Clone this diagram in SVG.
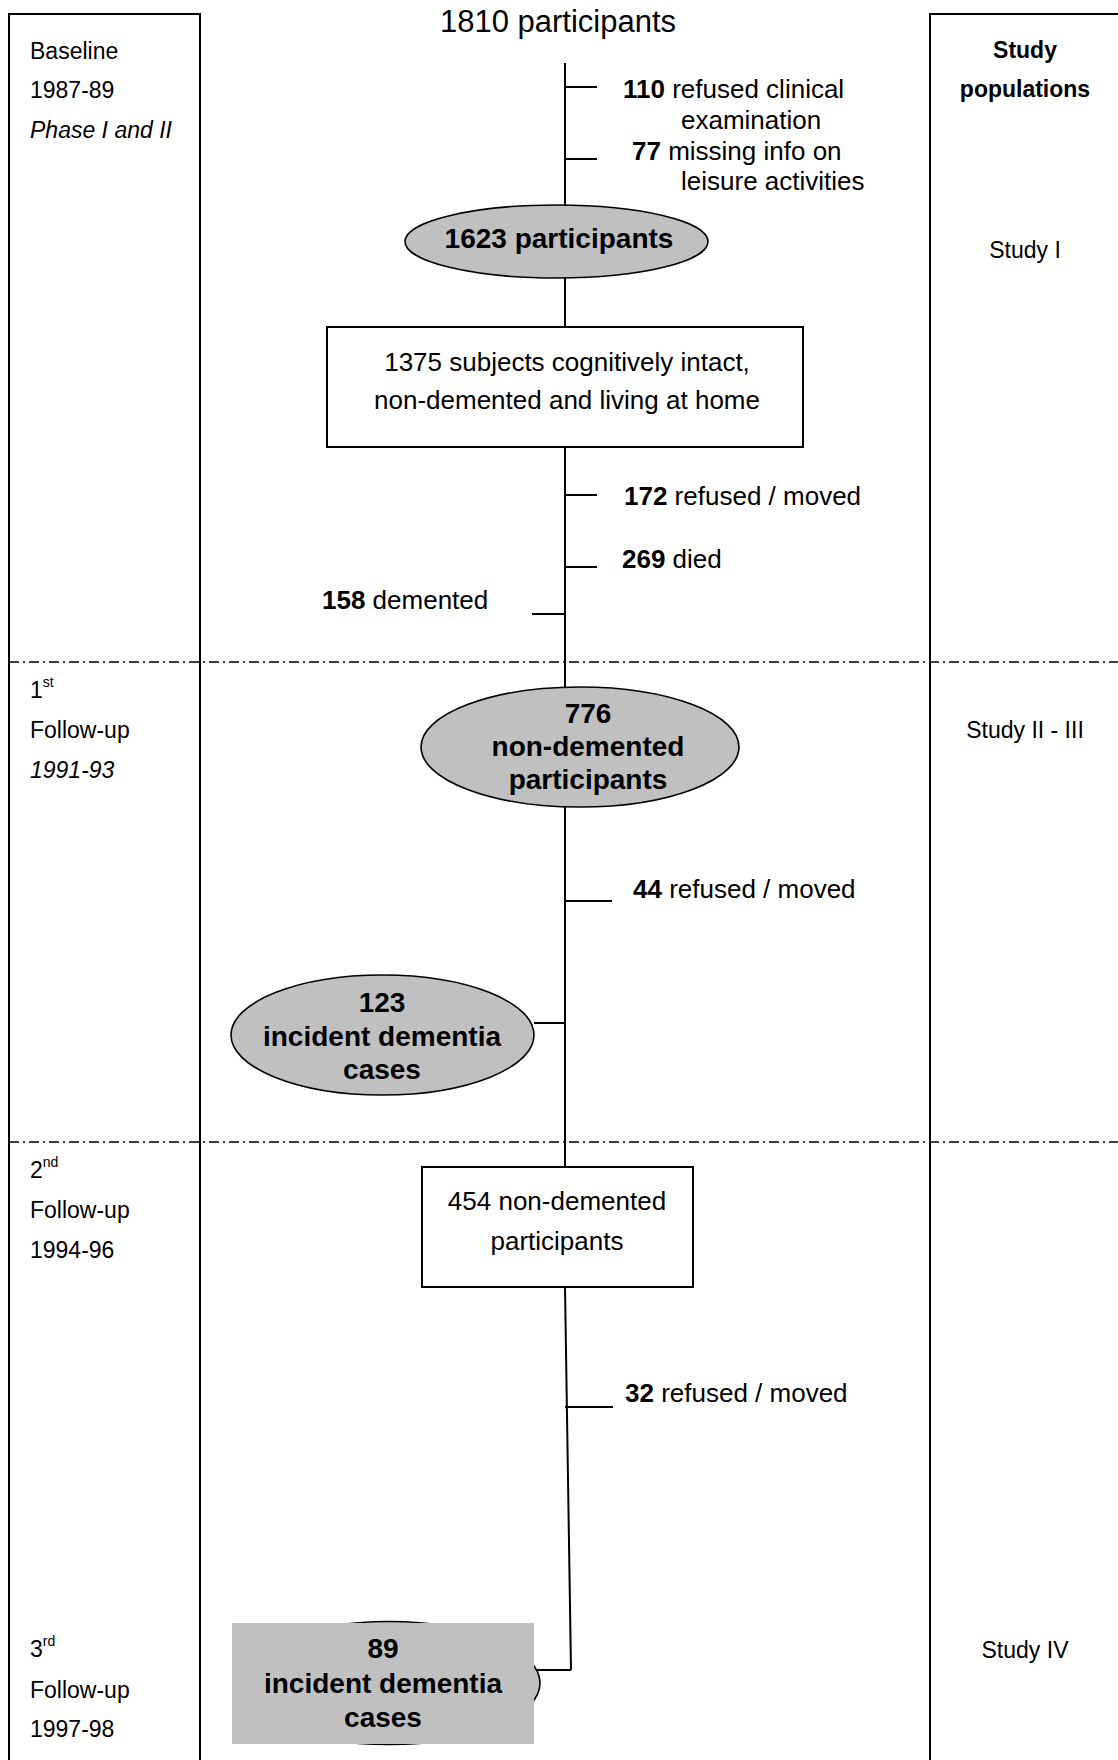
<svg xmlns="http://www.w3.org/2000/svg" width="1118" height="1760" viewBox="0 0 1118 1760">
<style>
text{font-family:"Liberation Sans",Arial,sans-serif;fill:#000}
.side{font-size:23px}
.mid{font-size:26px}
.big{font-size:28px;font-weight:bold}
.b{font-weight:bold}
.frame{fill:none;stroke:#000;stroke-width:2}
.node{fill:#c0c0c0;stroke:#000;stroke-width:1.6}
.box{fill:#fff;stroke:#000;stroke-width:2}
.ln{fill:none;stroke:#000;stroke-width:2}
.dash{stroke:#000;stroke-width:1.5;stroke-dasharray:10 4 2 4}
.sup{font-size:14px}
</style>
<rect width="1118" height="1760" fill="#fff"/>
<g id="frames">
<rect class="frame" x="9" y="14" width="191" height="1800"/>
<rect class="frame" x="930" y="14" width="250" height="1800"/>
<line class="dash" x1="9" y1="662" x2="1118" y2="662"/>
<line class="dash" x1="9" y1="1142" x2="1118" y2="1142"/>
</g>
<g id="phase-labels" class="side">
<text x="30" y="59">Baseline</text>
<text x="30" y="98">1987-89</text>
<text x="30" y="138" font-style="italic">Phase I and II</text>
<text x="30" y="698">1<tspan class="sup" dy="-11">st</tspan></text>
<text x="30" y="738">Follow-up</text>
<text x="30" y="778" font-style="italic">1991-93</text>
<text x="30" y="1178">2<tspan class="sup" dy="-11">nd</tspan></text>
<text x="30" y="1218">Follow-up</text>
<text x="30" y="1258">1994-96</text>
<text x="30" y="1657">3<tspan class="sup" dy="-11">rd</tspan></text>
<text x="30" y="1698">Follow-up</text>
<text x="30" y="1737">1997-98</text>
</g>
<g id="study-labels" class="side" text-anchor="middle">
<text x="1025" y="58" class="b">Study</text>
<text x="1025" y="97" class="b">populations</text>
<text x="1025" y="258">Study I</text>
<text x="1025" y="738">Study II - III</text>
<text x="1025" y="1658">Study IV</text>
</g>
<g id="connectors">
<line class="ln" x1="565" y1="63" x2="565" y2="1167"/>
<line class="ln" x1="565" y1="1287" x2="571" y2="1670"/>
<line class="ln" x1="571" y1="1670" x2="534" y2="1670"/>
<line class="ln" x1="565" y1="87" x2="597" y2="87"/>
<line class="ln" x1="565" y1="159" x2="597" y2="159"/>
<line class="ln" x1="565" y1="495" x2="597" y2="495"/>
<line class="ln" x1="565" y1="567" x2="597" y2="567"/>
<line class="ln" x1="532" y1="614" x2="565" y2="614"/>
<line class="ln" x1="565" y1="901" x2="612" y2="901"/>
<line class="ln" x1="534" y1="1023" x2="565" y2="1023"/>
<line class="ln" x1="565" y1="1407" x2="613" y2="1407"/>
</g>
<g id="title">
<text x="558" y="32" text-anchor="middle" font-size="31">1810 participants</text>
</g>
<g id="excl-baseline" class="mid">
<text x="623" y="98"><tspan class="b">110</tspan> refused clinical</text>
<text x="681" y="129">examination</text>
<text x="632" y="160"><tspan class="b">77</tspan> missing info on</text>
<text x="681" y="190">leisure activities</text>
</g>
<g id="n1623">
<ellipse class="node" cx="556.5" cy="241.5" rx="151.5" ry="36.5"/>
<text class="big" x="559" y="248" text-anchor="middle">1623 participants</text>
</g>
<g id="n1375">
<rect class="box" x="327" y="327" width="476" height="120"/>
<text class="mid" x="567" y="371" text-anchor="middle">1375 subjects cognitively intact,</text>
<text class="mid" x="567" y="409" text-anchor="middle">non-demented and living at home</text>
</g>
<g id="excl-fu1" class="mid">
<text x="624" y="505"><tspan class="b">172</tspan> refused / moved</text>
<text x="622" y="568"><tspan class="b">269</tspan> died</text>
<text x="322" y="609"><tspan class="b">158</tspan> demented</text>
</g>
<g id="n776">
<ellipse class="node" cx="580" cy="747" rx="159" ry="60"/>
<text class="big" x="588" y="723" text-anchor="middle">776</text>
<text class="big" x="588" y="756" text-anchor="middle">non-demented</text>
<text class="big" x="588" y="789" text-anchor="middle">participants</text>
</g>
<g id="excl-fu2" class="mid">
<text x="633" y="898"><tspan class="b">44</tspan> refused / moved</text>
</g>
<g id="n123">
<ellipse class="node" cx="382.5" cy="1035" rx="151.5" ry="60"/>
<text class="big" x="382" y="1012" text-anchor="middle">123</text>
<text class="big" x="382" y="1046" text-anchor="middle">incident dementia</text>
<text class="big" x="382" y="1079" text-anchor="middle">cases</text>
</g>
<g id="n454">
<rect class="box" x="422" y="1167" width="271" height="120"/>
<text class="mid" x="557" y="1210" text-anchor="middle">454 non-demented</text>
<text class="mid" x="557" y="1250" text-anchor="middle">participants</text>
</g>
<g id="excl-fu3" class="mid">
<text x="625" y="1402"><tspan class="b">32</tspan> refused / moved</text>
</g>
<g id="n89">
<ellipse class="node" cx="389" cy="1683" rx="151" ry="61.5"/>
<rect x="232" y="1623" width="302" height="121" fill="#c0c0c0"/>
<text class="big" x="383" y="1658" text-anchor="middle">89</text>
<text class="big" x="383" y="1693" text-anchor="middle">incident dementia</text>
<text class="big" x="383" y="1727" text-anchor="middle">cases</text>
</g>
</svg>
